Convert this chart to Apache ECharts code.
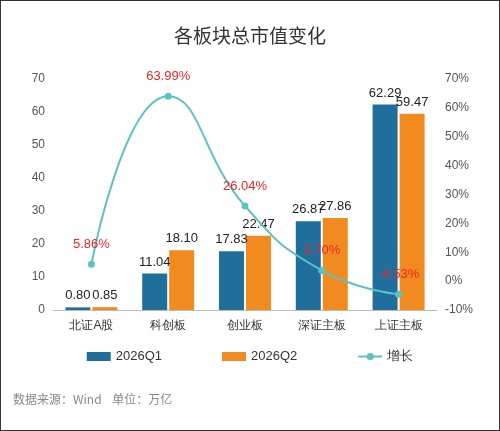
<!DOCTYPE html><html><head><meta charset="utf-8"><script src="https://cdn.jsdelivr.net/npm/echarts@6/dist/echarts.min.js"></script>
<style>body{margin:0}#c{width:498px;height:429px;border:1px solid #333;background:#fff}</style></head><body><div id="c"></div><script>
const categories=['北证A股','科创板','创业板','深证主板','上证主板'];
const q1=[0.80,11.04,17.83,26.87,62.29];
const q2=[0.85,18.10,22.47,27.86,59.47];
const growth=[5.86,63.99,26.04,3.70,-4.53];
const c=echarts.init(document.getElementById('c'));
const f='"Noto Sans CJK SC",sans-serif';
c.setOption({
title:{text:'各板块总市值变化',left:'center',top:20,textStyle:{fontSize:19,fontWeight:'normal',color:'#333',fontFamily:f}},
legend:{bottom:62,itemGap:60,textStyle:{fontSize:13,color:'#333'},data:[{name:'2026Q1',icon:'rect'},{name:'2026Q2',icon:'rect'},{name:'增长'}],itemWidth:24,itemHeight:9},
graphic:[{type:'text',left:12,top:392,style:{text:'数据来源：Wind    单位：万亿',fill:'#888',font:'12px '+f}}],
grid:{left:52,right:62,top:78,bottom:120},
xAxis:{type:'category',data:categories,axisTick:{show:false},axisLine:{lineStyle:{color:'#bbb'}},axisLabel:{color:'#333',fontSize:12,margin:10}},
yAxis:[{type:'value',min:0,max:70,interval:10,splitLine:{show:false},axisLabel:{color:'#555',fontSize:12}},
{type:'value',min:-10,max:70,interval:10,splitLine:{show:false},axisLabel:{color:'#555',fontSize:12,formatter:'{value}%'}}],
series:[
{name:'2026Q1',type:'bar',data:q1,barWidth:25,barGap:'8%',itemStyle:{color:'#1f6e9b'},label:{show:true,position:'top',color:'#222',fontSize:13,formatter:p=>p.value.toFixed(2)}},
{name:'2026Q2',type:'bar',data:q2,barWidth:25,itemStyle:{color:'#f28b1f'},label:{show:true,position:'top',color:'#222',fontSize:13,formatter:p=>p.value.toFixed(2)}},
{name:'增长',type:'line',yAxisIndex:1,data:growth,smooth:true,symbol:'circle',symbolSize:7,itemStyle:{color:'#5bc2c2'},lineStyle:{width:2,color:'#5bc2c2'},label:{show:true,position:'top',distance:10,color:'#e8262a',fontSize:13,formatter:p=>p.value.toFixed(2)+'%'}}
]});
</script></body></html>
